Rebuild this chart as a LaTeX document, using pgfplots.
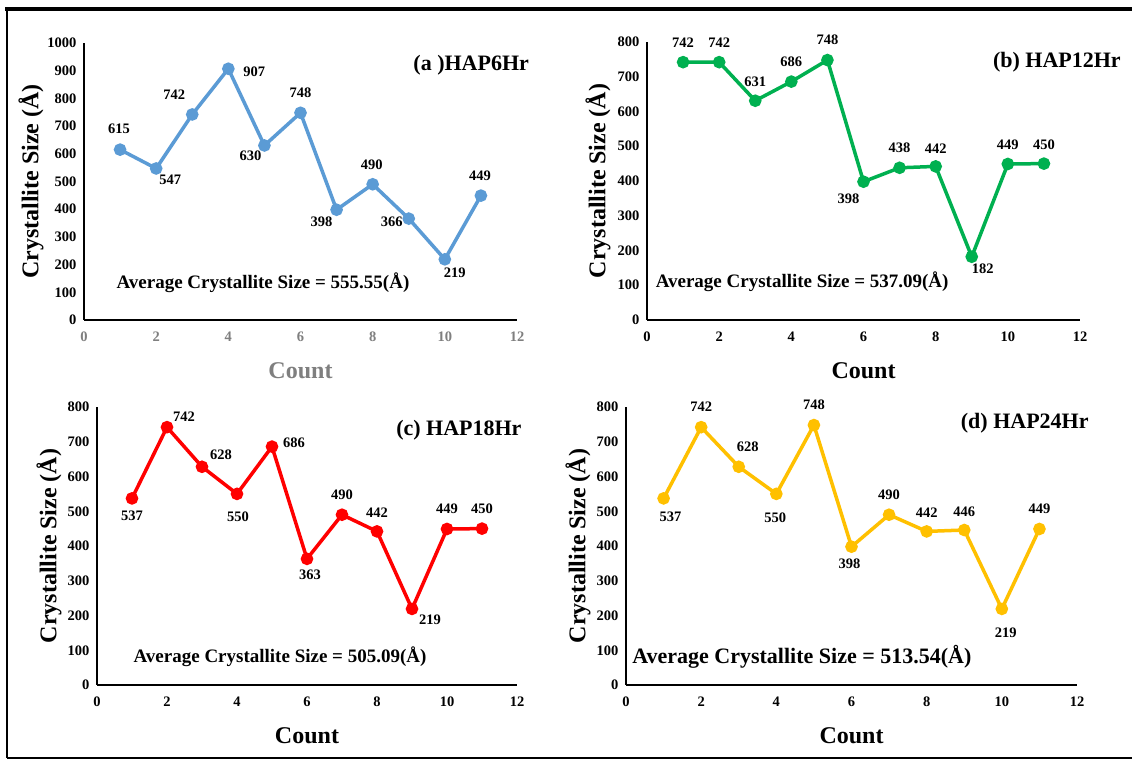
\documentclass[border=0pt]{standalone}
\usepackage{fontspec}
\setmainfont{Liberation Serif}
\usepackage{pgfplots}
\usepackage{pgfplotstable}
\pgfplotsset{compat=1.18}
\definecolor{cA}{HTML}{5B9BD5}
\definecolor{cB}{HTML}{00B050}
\definecolor{cC}{HTML}{FF0000}
\definecolor{cD}{HTML}{FFC000}
\definecolor{gr}{HTML}{7F7F7F}

\pgfplotstableread{
x y lx ly
1 615 -1 21
2 547 14 -11
3 742 -18 20
4 907 26 -3
5 630 -14 -10
6 748 0 20
7 398 -15 -12
8 490 -1 20
9 366 -17 -3
10 219 10 -13
11 449 -1 20
}\dataA
\pgfplotstableread{
x y lx ly
1 742 0 19
2 742 0 19
3 631 0 19
4 686 0 20
5 748 0 20
6 398 -15 -17
7 438 0 20
8 442 0 18
9 182 11 -12
10 449 0 19
11 450 0 19
}\dataB
\pgfplotstableread{
x y lx ly
1 537 0 -17
2 742 17 10
3 628 19 12
4 550 1 -23
5 686 22 4
6 363 3 -16
7 490 0 20
8 442 0 19
9 219 18 -11
10 449 0 20
11 450 0 20
}\dataC
\pgfplotstableread{
x y lx ly
1 537 7 -18
2 742 0 20
3 628 9 20
4 550 -1 -24
5 748 0 20
6 398 -2 -17
7 490 0 20
8 442 0 19
9 446 0 18
10 219 4 -24
11 449 0 20
}\dataD

\tikzset{
  ttl/.style={font=\fontsize{22}{24}\selectfont\bfseries, anchor=center},
}
\newcommand{\labfont}{\fontsize{24}{26}\selectfont\bfseries}
\pgfplotsset{
  /pgf/number format/assume math mode=true,
  /pgf/number format/1000 sep={},
  panel/.style={
    scale only axis,
    axis lines*=left,
    axis line style={line width=2.6pt, black},
    xmin=0, xmax=12, ymin=0,
    xtick={0,2,...,12},
    major tick length=0pt,
    tick style={draw=none},
    tick label style={font=\fontsize{14.5}{16}\selectfont\bfseries},
    yticklabel style={xshift=-4pt},
    xticklabel style={yshift=-8pt},
    ylabel={Crystallite Size (Å)},
    xlabel={Count},
    every axis x label/.style={at={(rel axis cs:0.5,0)}, yshift=-51pt, anchor=center, font=\labfont},
    clip=false,
  },
  ylab/.style={every axis y label/.style={at={(rel axis cs:0,0.5)}, xshift=-#1pt, rotate=90, anchor=center, font=\labfont}},
  series/.style={
    color=#1, line width=3.5pt, mark=*, mark size=4.5pt,
    mark options={solid, fill=#1, draw=#1},
    visualization depends on={\thisrow{lx} \as \lx},
    visualization depends on={\thisrow{ly} \as \ly},
    nodes near coords,
    every node near coord/.append style={anchor=center, xshift=\lx pt, yshift=\ly pt,
      font=\fontsize{14.5}{16}\selectfont\bfseries, text=black},
  },
}

\begin{document}
\begin{tikzpicture}
\useasboundingbox (0pt,0pt) rectangle (1132pt,760pt);
\fill[white] (0pt,0pt) rectangle (1132pt,760pt);
\draw[line width=2.5pt] (7pt,2pt) -- (7pt,752pt);
\draw[line width=4.5pt] (5pt,751pt) -- (1132pt,751pt);
\draw[line width=1.5pt] (7pt,2pt) -- (1132pt,2pt);

% (a)
\begin{axis}[panel, ylab=53, at={(84pt,440pt)}, anchor=south west, width=433pt, height=277pt,
  ymax=1000, ytick={0,100,...,1000},
  xticklabel style={text=gr}, xlabel style={text=gr}]
\addplot[series=cA] table[x=x,y=y,meta=y] {\dataA};
\node[ttl] at (axis cs:10.73,920) {(a )HAP6Hr};
\node[font=\fontsize{19}{21}\selectfont\bfseries] at (axis cs:4.96,134) {Average Crystallite Size = 555.55(Å)};
\end{axis}

% (b)
\begin{axis}[panel, ylab=49, at={(647pt,440pt)}, anchor=south west, width=433pt, height=278pt,
  ymax=800, ytick={0,100,...,800}]
\addplot[series=cB] table[x=x,y=y,meta=y] {\dataB};
\node[ttl] at (axis cs:11.36,742) {(b) HAP12Hr};
\node[font=\fontsize{19}{21}\selectfont\bfseries] at (axis cs:4.3,109) {Average Crystallite Size = 537.09(Å)};
\end{axis}

% (c)
\begin{axis}[panel, ylab=48, at={(97pt,75pt)}, anchor=south west, width=420pt, height=278pt,
  ymax=800, ytick={0,100,...,800}]
\addplot[series=cC] table[x=x,y=y,meta=y] {\dataC};
\node[ttl] at (axis cs:10.34,734) {(c) HAP18Hr};
\node[font=\fontsize{19}{21}\selectfont\bfseries] at (axis cs:5.23,81) {Average Crystallite Size = 505.09(Å)};
\end{axis}

% (d)
\begin{axis}[panel, ylab=48, at={(626pt,75pt)}, anchor=south west, width=451pt, height=278pt,
  ymax=800, ytick={0,100,...,800}]
\addplot[series=cD] table[x=x,y=y,meta=y] {\dataD};
\node[ttl] at (axis cs:10.61,754) {(d) HAP24Hr};
\node[font=\fontsize{22}{24}\selectfont\bfseries] at (axis cs:4.68,81) {Average Crystallite Size = 513.54(Å)};
\end{axis}
\end{tikzpicture}
\end{document}
